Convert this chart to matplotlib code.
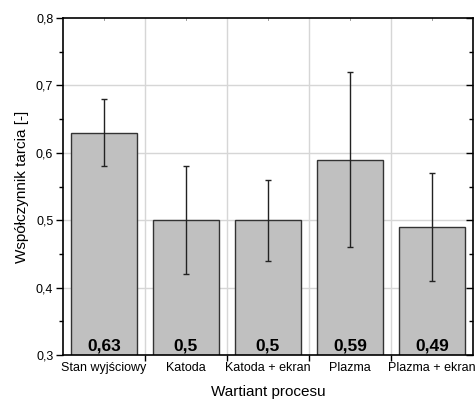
import numpy as np
import matplotlib
matplotlib.use("Agg")
import matplotlib.pyplot as plt
from matplotlib.ticker import MultipleLocator, FixedLocator

plt.rcParams['font.family'] = ['Liberation Sans', 'DejaVu Sans']

categories = ["Stan wyjściowy", "Katoda", "Katoda + ekran", "Plazma", "Plazma + ekran"]
values = [0.63, 0.50, 0.50, 0.59, 0.49]
errors = [0.05, 0.08, 0.06, 0.13, 0.08]
value_labels = ["0,63", "0,5", "0,5", "0,59", "0,49"]

fig = plt.figure(figsize=(4.75, 4.01), dpi=100)
ax = fig.add_axes([0.1326, 0.1147, 0.8632, 0.8403])

x = np.arange(len(categories))
ax.bar(x, values, width=0.8, color='#c0c0c0', edgecolor='#333333', linewidth=1.0, zorder=2)
ax.errorbar(x, values, yerr=errors, fmt='none', ecolor='#222222', elinewidth=1.0,
            capsize=2.5, capthick=1.0, zorder=3)

for xi, lab in zip(x, value_labels):
    ax.text(xi, 0.302, lab, ha='center', va='bottom', fontsize=12.5, fontweight='bold', zorder=4)

ax.set_xlim(-0.5, len(categories) - 0.5)
ax.set_ylim(0.3, 0.8)

def fmt_comma(v, pos):
    return f"{v:.1f}".replace('.', ',')

ax.yaxis.set_major_locator(MultipleLocator(0.1))
ax.yaxis.set_minor_locator(MultipleLocator(0.05))
ax.yaxis.set_major_formatter(plt.FuncFormatter(fmt_comma))

# category labels at centres, tick marks at boundaries
ax.set_xticks(x)
ax.set_xticklabels(categories)
ax.tick_params(axis='x', which='major', length=0, labelsize=9, pad=5)
ax.xaxis.set_minor_locator(FixedLocator(np.arange(0.5, len(categories) - 0.5, 1)))
ax.tick_params(axis='x', which='minor', direction='out', length=4, width=1)

ax.tick_params(axis='y', which='major', direction='out', length=5, width=1, labelsize=9,
               right=True, pad=2)
ax.tick_params(axis='y', which='minor', direction='out', length=3, width=1, right=True)

# grid
for yv in np.arange(0.4, 0.8, 0.1):
    ax.axhline(yv, color='#d6d6d6', linewidth=1.0, zorder=0)
for xv in np.arange(0.5, len(categories) - 0.5, 1):
    ax.axvline(xv, color='#d6d6d6', linewidth=1.0, zorder=0)

# right spine ticks point inward, top spine small ticks at centres
for t in ax.yaxis.get_major_ticks() + ax.yaxis.get_minor_ticks():
    t.tick2line.set_marker(matplotlib.lines.TICKLEFT)
for xi in x:
    ax.plot([xi, xi], [0.8, 0.797], color='#888888', linewidth=0.6, clip_on=False, zorder=1)

for s in ax.spines.values():
    s.set_linewidth(1.2)
    s.set_color('black')

ax.set_xlabel("Wartiant procesu", fontsize=11, labelpad=8)
ax.set_ylabel("Współczynnik tarcia [-]", fontsize=11, labelpad=5)

fig.savefig("out.png", dpi=100)
